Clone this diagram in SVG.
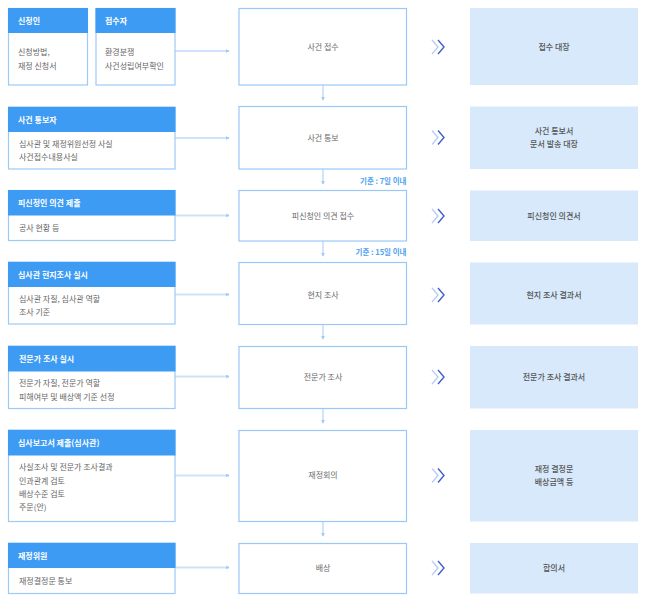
<svg xmlns="http://www.w3.org/2000/svg" width="650" height="601" viewBox="0 0 650 601">
<defs>
<marker id="ah" viewBox="0 0 6 6" refX="5" refY="3" markerWidth="4" markerHeight="4" orient="auto" markerUnits="userSpaceOnUse">
<path d="M0,0 L6,3 L0,6 z" fill="#9fcbf6"/>
</marker>
<g id="chev">
<path d="M0,-7 L6,0 L0,7" fill="none" stroke="#b9cdf0" stroke-width="1.4"/>
<path d="M6,-7 L12,0 L6,7" fill="none" stroke="#3d62c6" stroke-width="1.4"/>
</g>
</defs>
<style>
text{font-family:"Noto Sans CJK KR","Noto Sans",sans-serif;font-size:8px}
.hd{fill:#3d9bf3}
.lb{fill:#fff;stroke:#9ccaf7;stroke-width:1.2}
.cb{fill:#fff;stroke:#98c8f7;stroke-width:1.2}
.rb{fill:#d7e9fb}
.ht{fill:#fff;font-weight:bold}
.bt{fill:#666}
.ct{fill:#6a6a6a;text-anchor:middle}
.rt{fill:#555;text-anchor:middle;font-weight:500}
.lbl{fill:#4da3f0;font-weight:bold;text-anchor:end;font-size:7.5px}
.cn{stroke:#cde3fa;stroke-width:1.8;fill:none;marker-end:url(#ah)}
</style>
<rect width="650" height="601" fill="#fff"/>

<g id="connectors">
<line class="cn" x1="175" y1="51" x2="229" y2="51"/>
<line class="cn" x1="175" y1="138" x2="229" y2="138"/>
<line class="cn" x1="175" y1="215.5" x2="229" y2="215.5"/>
<line class="cn" x1="175" y1="294.5" x2="229" y2="294.5"/>
<line class="cn" x1="175" y1="376.5" x2="229" y2="376.5"/>
<line class="cn" x1="175" y1="475.5" x2="229" y2="475.5"/>
<line class="cn" x1="175" y1="567.5" x2="229" y2="567.5"/>
<line class="cn" x1="323" y1="85" x2="323" y2="100"/>
<line class="cn" x1="323" y1="169" x2="323" y2="184"/>
<line class="cn" x1="323" y1="241" x2="323" y2="256"/>
<line class="cn" x1="323" y1="324.5" x2="323" y2="339"/>
<line class="cn" x1="323" y1="408.5" x2="323" y2="423"/>
<line class="cn" x1="323" y1="521.5" x2="323" y2="536"/>
<use href="#chev" x="432" y="47"/>
<use href="#chev" x="432" y="137.5"/>
<use href="#chev" x="432" y="216"/>
<use href="#chev" x="432" y="295"/>
<use href="#chev" x="432" y="377"/>
<use href="#chev" x="432" y="475.5"/>
<use href="#chev" x="432" y="568"/>
<text class="lbl" x="406.5" y="183.5">기준 : 7일 이내</text>
<text class="lbl" x="406.5" y="254.5">기준 : 15일 이내</text>
</g>

<g id="applicant">
<rect class="lb" x="8.5" y="8.5" width="79" height="76.5"/>
<rect class="hd" x="8" y="8" width="80" height="25"/>
<text class="ht" x="18" y="23.5">신청인</text>
<text class="bt" x="18" y="55">신청방법,</text>
<text class="bt" x="18" y="68.5">재정 신청서</text>
</g>
<g id="receiver">
<rect class="lb" x="96" y="8.5" width="79" height="76.5"/>
<rect class="hd" x="95.5" y="8" width="80" height="25"/>
<text class="ht" x="105" y="23.5">접수자</text>
<text class="bt" x="105" y="55">환경분쟁</text>
<text class="bt" x="105" y="68.5">사건성립여부확인</text>
</g>
<g id="notifier">
<rect class="lb" x="8.5" y="107" width="166.5" height="62"/>
<rect class="hd" x="8" y="107" width="167.5" height="25"/>
<text class="ht" x="18" y="122.5">사건 통보자</text>
<text class="bt" x="19" y="147">심사관 및 재정위원선정 사실</text>
<text class="bt" x="19" y="160">사건접수내용사실</text>
</g>
<g id="respondent">
<rect class="lb" x="8.5" y="190.5" width="166.5" height="50"/>
<rect class="hd" x="8" y="190" width="167.5" height="25.5"/>
<text class="ht" x="18" y="206">피신청인 의견 제출</text>
<text class="bt" x="19" y="231">공사 현황 등</text>
</g>
<g id="inspector">
<rect class="lb" x="8.5" y="262" width="166.5" height="62"/>
<rect class="hd" x="8" y="262" width="167.5" height="25"/>
<text class="ht" x="18" y="277.5">심사관 현지조사 실시</text>
<text class="bt" x="19" y="301.5">심사관 자질, 심사관 역할</text>
<text class="bt" x="19" y="315">조사 기준</text>
</g>
<g id="expert">
<rect class="lb" x="8.5" y="346" width="166.5" height="62.5"/>
<rect class="hd" x="8" y="346" width="167.5" height="25.5"/>
<text class="ht" x="19" y="362">전문가 조사 실시</text>
<text class="bt" x="19" y="386">전문가 자질, 전문가 역할</text>
<text class="bt" x="19" y="399.5">피해여부 및 배상액 기준 선정</text>
</g>
<g id="report">
<rect class="lb" x="8.5" y="430" width="166.5" height="91.5"/>
<rect class="hd" x="8" y="430" width="167.5" height="25.5"/>
<text class="ht" x="18" y="446">심사보고서 제출(심사관)</text>
<text class="bt" x="19" y="470">사실조사 및 전문가 조사결과</text>
<text class="bt" x="19" y="483.5">인과관계 검토</text>
<text class="bt" x="19" y="497">배상수준 검토</text>
<text class="bt" x="19" y="510">주문(안)</text>
</g>
<g id="committee">
<rect class="lb" x="8.5" y="543" width="166.5" height="50.5"/>
<rect class="hd" x="8" y="543" width="167.5" height="25"/>
<text class="ht" x="18" y="558.5">재정위원</text>
<text class="bt" x="19" y="583.5">재정결정문 통보</text>
</g>

<g id="step1"><rect class="cb" x="239" y="8.5" width="167.5" height="76.5"/><text class="ct" x="323" y="50">사건 접수</text></g>
<g id="step2"><rect class="cb" x="239" y="106.5" width="167.5" height="62.5"/><text class="ct" x="323" y="140.5">사건 통보</text></g>
<g id="step3"><rect class="cb" x="239" y="190.5" width="167.5" height="50.5"/><text class="ct" x="323" y="218.5">피신청인 의견 접수</text></g>
<g id="step4"><rect class="cb" x="239" y="262.5" width="167.5" height="62"/><text class="ct" x="323" y="297.5">현지 조사</text></g>
<g id="step5"><rect class="cb" x="239" y="346.5" width="167.5" height="62"/><text class="ct" x="323" y="380">전문가 조사</text></g>
<g id="step6"><rect class="cb" x="239" y="430.5" width="167.5" height="91"/><text class="ct" x="323" y="478">재정회의</text></g>
<g id="step7"><rect class="cb" x="239" y="543.5" width="167.5" height="50"/><text class="ct" x="323" y="571">배상</text></g>

<g id="doc1"><rect class="rb" x="470" y="8" width="168" height="77"/><text class="rt" x="554" y="50">접수 대장</text></g>
<g id="doc2"><rect class="rb" x="470" y="106.5" width="168" height="62.5"/><text class="rt" x="554" y="134">사건 통보서</text><text class="rt" x="554" y="147">문서 발송 대장</text></g>
<g id="doc3"><rect class="rb" x="470" y="190.5" width="168" height="50.5"/><text class="rt" x="554" y="218.5">피신청인 의견서</text></g>
<g id="doc4"><rect class="rb" x="470" y="262.5" width="168" height="62"/><text class="rt" x="554" y="297.5">현지 조사 결과서</text></g>
<g id="doc5"><rect class="rb" x="470" y="346" width="168" height="62.5"/><text class="rt" x="554" y="380">전문가 조사 결과서</text></g>
<g id="doc6"><rect class="rb" x="470" y="430" width="168" height="91.5"/><text class="rt" x="554" y="471.5">재정 결정문</text><text class="rt" x="554" y="484.5">배상금액 등</text></g>
<g id="doc7"><rect class="rb" x="470" y="543" width="168" height="50.5"/><text class="rt" x="554" y="571">합의서</text></g>
</svg>
